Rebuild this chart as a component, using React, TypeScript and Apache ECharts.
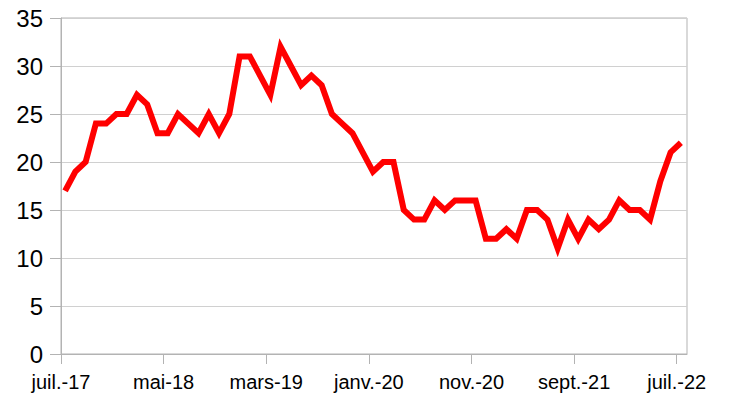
import React, { useEffect, useRef } from "react";
import * as echarts from "echarts";

// Monthly values, juil.-17 … juil.-22 (61 months)
const values: number[] = [
  17, 19, 20, 24, 24, 25, 25, 27, 26, 23,
  23, 25, 24, 23, 25, 23, 25, 31, 31, 29,
  27, 32, 30, 28, 29, 28, 25, 24, 23, 21,
  19, 20, 20, 15, 14, 14, 16, 15, 16, 16,
  16, 12, 12, 13, 12, 15, 15, 14, 11, 14,
  12, 14, 13, 14, 16, 15, 15, 14, 18, 21,
  22,
];

// Tick labels every 10 months
const tickMonths: number[] = [0, 10, 20, 30, 40, 50, 60];
const tickLabels: string[] = ["juil.-17", "mai-18", "mars-19", "janv.-20", "nov.-20", "sept.-21", "juil.-22"];

const yTicks: number[] = [0, 5, 10, 15, 20, 25, 30, 35];

// points sit partway into their month on the date axis
const MONTH_POS = 0.4;

export default function App() {
  const ref = useRef<HTMLDivElement>(null);
  useEffect(() => {
    if (!ref.current) return;
    const chart = echarts.init(ref.current, null, { renderer: "svg" });
    const font = "'Liberation Sans', Arial, sans-serif";
    const axisGrey = "#b3b3b3";
    chart.setOption({
      animation: false,
      grid: {
        left: 61,
        right: 46,
        top: 18,
        bottom: 46,
        show: true,
        borderColor: axisGrey,
        borderWidth: 1,
        containLabel: false,
      },
      xAxis: {
        type: "value",
        min: 0,
        max: values.length,
        interval: 10,
        axisLine: { show: true, onZero: false, lineStyle: { color: axisGrey, width: 1 } },
        axisTick: {
          show: true,
          length: 10,
          customValues: tickMonths,
          lineStyle: { color: axisGrey, width: 1 },
        },
        axisLabel: {
          customValues: tickMonths,
          margin: 18,
          color: "#000",
          fontSize: 20,
          fontFamily: font,
          formatter: (v: number) => {
            const i = tickMonths.indexOf(Math.round(v));
            return i >= 0 ? tickLabels[i] : "";
          },
        },
        splitLine: { show: false },
      },
      yAxis: {
        type: "value",
        min: yTicks[0],
        max: yTicks[yTicks.length - 1],
        interval: 5,
        axisLine: { show: true, lineStyle: { color: axisGrey, width: 1 } },
        axisTick: { show: true, length: 11, lineStyle: { color: axisGrey, width: 1 } },
        axisLabel: {
          margin: 18,
          color: "#000",
          fontSize: 24,
          fontFamily: font,
        },
        splitLine: { show: true, lineStyle: { color: "#d0d0d0", width: 1 } },
      },
      series: [
        {
          type: "line",
          data: values.map((v, i) => [i + MONTH_POS, v]),
          showSymbol: false,
          symbol: "none",
          lineStyle: { color: "#ff0000", width: 6, join: "miter", miterLimit: 4 },
          itemStyle: { color: "#ff0000" },
          clip: false,
        },
      ],
    });
    return () => chart.dispose();
  }, []);
  return <div ref={ref} style={{ width: 733, height: 400, position: "absolute", left: 0, top: 0 }} />;
}
